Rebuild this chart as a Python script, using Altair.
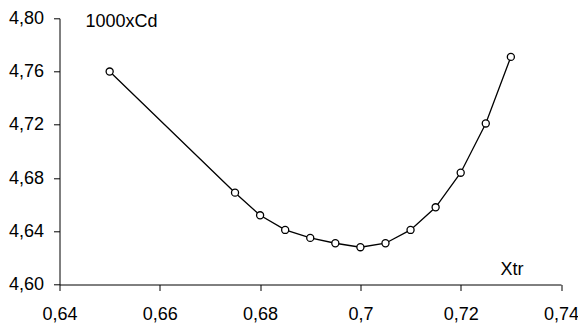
import altair as alt
import pandas as pd

xtr = [0.65, 0.675, 0.68, 0.685, 0.69, 0.695, 0.70, 0.705, 0.71, 0.715, 0.72, 0.725, 0.73]
cd1000 = [4.760, 4.669, 4.652, 4.641, 4.635, 4.631, 4.628, 4.631, 4.641, 4.658, 4.684, 4.721, 4.771]
x_ticks = [0.64, 0.66, 0.68, 0.70, 0.72, 0.74]
y_ticks = [4.60, 4.64, 4.68, 4.72, 4.76, 4.80]

df = pd.DataFrame({"Xtr": xtr, "Cd": cd1000})

font = "Liberation Sans"
fs = 18

x_enc = alt.X(
    "Xtr:Q",
    scale=alt.Scale(domain=[0.64, 0.74], nice=False, zero=False),
    axis=alt.Axis(
        values=x_ticks,
        labelExpr="replace(format(datum.value, '.2~f'), '.', ',')",
        title="Xtr",
        titleX=440.5,
        titleY=-10.5,
        titleAlign="left",
        titleBaseline="alphabetic",
        titleAngle=0,
        titleFontWeight="normal",
        labelPadding=15,
        labelFlush=False,
    ),
)
y_enc = alt.Y(
    "Cd:Q",
    scale=alt.Scale(domain=[4.60, 4.80], nice=False, zero=False),
    axis=alt.Axis(
        values=y_ticks,
        labelExpr="replace(format(datum.value, '.2f'), '.', ',')",
        title="1000xCd",
        titleX=25.5,
        titleY=8,
        titleAlign="left",
        titleBaseline="alphabetic",
        titleAngle=0,
        titleFontWeight="normal",
        labelPadding=10,
        labelFlush=False,
    ),
)

line = alt.Chart(df).mark_line(color="black", strokeWidth=1.3).encode(x=x_enc, y=y_enc)
pts = alt.Chart(df).mark_point(
    shape="circle", filled=True, fill="white", stroke="black", strokeWidth=1.3, size=50, opacity=1
).encode(x="Xtr:Q", y="Cd:Q")

chart = (
    alt.layer(line, pts)
    .properties(
        width=501.5,
        height=266.2,
        autosize=alt.AutoSizeParams(type="none"),
        padding={"left": 51.5, "top": 10.3, "right": 17, "bottom": 40},
        background="white",
    )
    .configure_view(stroke=None)
    .configure_axis(
        grid=False,
        domainColor="black",
        domainWidth=1,
        tickColor="black",
        tickWidth=1,
        tickSize=6,
        labelFont=font,
        labelFontSize=fs,
        labelColor="black",
        titleFont=font,
        titleFontSize=fs,
        titleFontWeight="normal",
        titleColor="black",
    )
)

chart.save("out.html", embed_options={"renderer": "svg", "actions": False})
